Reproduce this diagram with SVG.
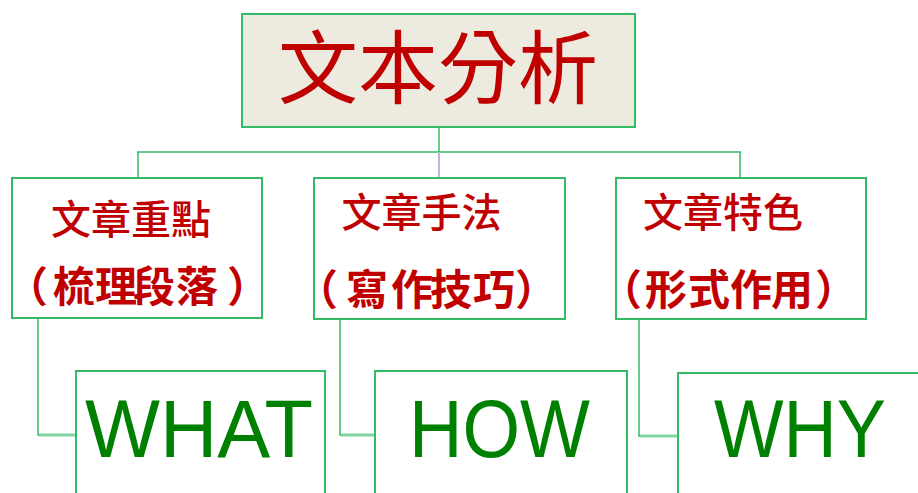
<svg xmlns="http://www.w3.org/2000/svg" width="918" height="493" viewBox="0 0 918 493">
<style>
.box{fill:#FFFFFF;stroke:#33BB66;stroke-width:2}
.top{fill:#EDEBE0;stroke:#33BB66;stroke-width:2}
.conn{fill:none;stroke:#33BB66;stroke-width:1.5}
.stub{fill:none;stroke:#7FD6A0;stroke-width:3}
.cjk{font-family:"Noto Sans CJK TC","Noto Sans CJK SC",sans-serif;fill:#C00000}
.t1{font-size:40px;font-weight:500;text-anchor:middle}
.t2{font-size:42px;font-weight:bold}
.en{font-family:"Liberation Sans",Arial,sans-serif;font-size:81px;fill:#008000}
</style>
<rect width="918" height="493" fill="#FFFFFF"/>
<g id="connectors">
<path class="conn" d="M439,127 V152" stroke="#2A9A5A"/>
<path class="conn" d="M137,152 H741"/>
<path class="conn" d="M138,152 V178 M740,152 V178"/>
<path d="M439,152 V178" fill="none" stroke="#C4B4D8" stroke-width="2"/>
<path class="conn" d="M38,318 V435 H76 M340,319 V435 H375 M639,319 V436 H678"/>
<path class="stub" d="M39,435 H76 M341,435 H375 M640,436 H678"/>
</g>
<g id="root">
<rect class="top" x="242" y="14" width="393" height="113"/>
<text class="cjk" x="438" y="97" font-size="80" text-anchor="middle">文本分析</text>
</g>
<g id="n1">
<rect class="box" x="12" y="178" width="250" height="140"/>
<text class="cjk t1" x="131" y="234">文章重點</text>
<text class="cjk t2" x="6 53 95 133 176 227" y="302">（梳理段落）</text>
</g>
<g id="n2">
<rect class="box" x="314" y="178" width="251" height="141"/>
<text class="cjk t1" x="421.5" y="227">文章手法</text>
<text class="cjk t2" x="296 346 391 430 473 515" y="305">（寫作技巧）</text>
</g>
<g id="n3">
<rect class="box" x="616" y="178" width="250" height="141"/>
<text class="cjk t1" x="723" y="227">文章特色</text>
<text class="cjk t2" x="600 645 688 730 771 815" y="305">（形式作用）</text>
</g>
<g id="what">
<rect class="box" x="76" y="371" width="249" height="140"/>
<text class="en" x="85" y="457" textLength="228" lengthAdjust="spacingAndGlyphs">WHAT</text>
</g>
<g id="how">
<rect class="box" x="375" y="371" width="252" height="140"/>
<text class="en" x="409" y="457" textLength="181" lengthAdjust="spacingAndGlyphs">HOW</text>
</g>
<g id="why">
<rect class="box" x="678" y="373" width="260" height="140"/>
<text class="en" x="714" y="457" textLength="172" lengthAdjust="spacingAndGlyphs">WHY</text>
</g>
</svg>
